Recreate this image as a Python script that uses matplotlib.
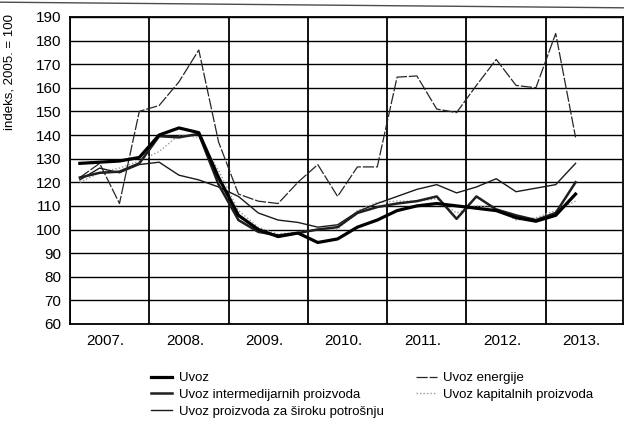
import matplotlib
matplotlib.use("Agg")
import matplotlib.pyplot as plt
import numpy as np
from matplotlib.lines import Line2D

plt.rcParams["font.family"] = ["Liberation Sans", "DejaVu Sans"]

# quarterly data, 2007 Q1 .. 2013 Q2 (index 2005 = 100)
years = ["2007.", "2008.", "2009.", "2010.", "2011.", "2012.", "2013."]
uvoz = [128, 128.5, 129, 130.5, 140, 143, 141, 122, 106, 100, 97, 98.5, 94.5,
        96, 101, 104, 108, 110, 111, 110, 109, 108, 105, 103.5, 106, 115]
intermedijarni = [122, 124, 124.5, 128, 139.5, 139, 140.5, 119, 104, 99, 97.5, 98.5, 100,
                  101, 107, 109.5, 111, 112, 114, 104.5, 114, 108.5, 106, 104, 107, 120]
siroka_potrosnja = [121, 126, 124, 127.5, 128.5, 123, 121, 118, 114, 107, 104, 103, 101,
                    102, 107.5, 111, 114, 117, 119, 115.5, 118, 121.5, 116, 117.5, 119, 128]
energija = [122, 128, 111, 150, 152.5, 162.5, 176, 137, 115, 112, 111, 120, 127.5,
            114, 126.5, 126.5, 164.5, 165, 151, 149.5, 161, 172, 161, 160, 183, 139]
kapitalni = [120, 124, 126, 129, 133, 140, 139, 125, 108, 101, 98, 99, 100,
             100, 108, 111.5, 112, 112, 113, 107, 110, 109, 104, 105, 108, 112]

t = (np.arange(len(uvoz)) + 0.5) / 4.0

fig = plt.figure(figsize=(6.24, 4.34), dpi=100)
ax = fig.add_axes([0.112, 0.2535, 0.886, 0.7075])

ax.plot(t, kapitalni, color="0.6", lw=1.0, ls=(0, (1, 1.5)), label="Uvoz kapitalnih proizvoda")
ax.plot(t, energija, color="0.15", lw=0.9, ls=(0, (9, 1.5)), label="Uvoz energije")
ax.plot(t, siroka_potrosnja, color="0.1", lw=1.0, label="Uvoz proizvoda za široku potrošnju")
ax.plot(t, intermedijarni, color="0.12", lw=1.8, label="Uvoz intermedijarnih proizvoda")
ax.plot(t, uvoz, color="black", lw=2.3, label="Uvoz")

ax.set_xlim(0, 6.97)
ax.set_ylim(60, 190)
ax.set_yticks(np.arange(60, 191, 10))
ax.set_xticks(np.arange(0, 7))
ax.set_xticks(np.arange(len(years)) + 0.45, minor=True)
ax.set_xticklabels([])
ax.set_xticklabels(years, minor=True)
ax.tick_params(axis="both", which="both", length=0, labelsize=11)
ax.tick_params(axis="x", which="minor", pad=7)
ax.tick_params(axis="y", pad=6)
ax.grid(axis="y", color="black", lw=1.0)
ax.grid(axis="x", which="major", color="black", lw=1.3)
ax.set_axisbelow(True)
for s in ax.spines.values():
    s.set_color("black")
    s.set_linewidth(1.3)

fig.text(0.016, 0.835, "indeks, 2005. = 100", rotation=90, ha="center", va="center", fontsize=9.5)

# scanned page edge at top
fig.add_artist(Line2D([0, 1], [0.995, 0.982], color="0.3", lw=1.0))

h = {l.get_label(): l for l in ax.get_lines()}
order = ["Uvoz", "Uvoz intermedijarnih proizvoda", "Uvoz proizvoda za široku potrošnju",
         "Uvoz energije", "Uvoz kapitalnih proizvoda"]
leg = fig.legend([h[k] for k in order], order, ncol=2, loc="upper left",
                 bbox_to_anchor=(0.232, 0.158), frameon=False, fontsize=9.5,
                 handlelength=1.6, handletextpad=0.5, columnspacing=2.4,
                 labelspacing=0.35, borderpad=0)

fig.savefig("out.png", dpi=100)
